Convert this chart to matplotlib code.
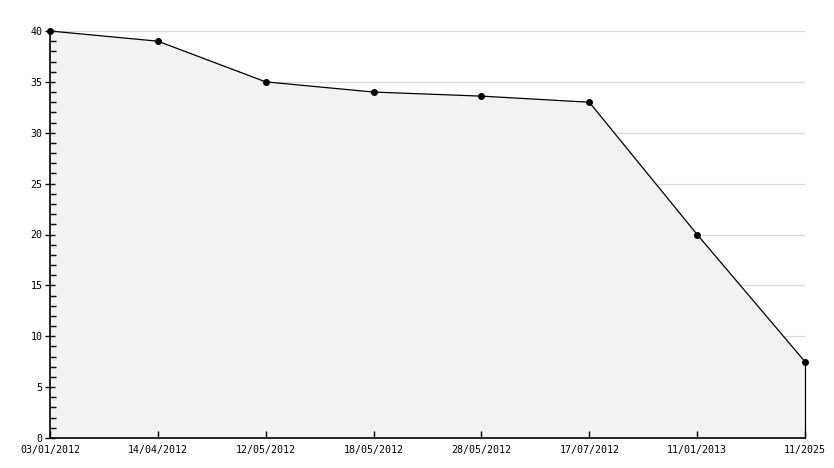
import matplotlib
matplotlib.use("Agg")
from matplotlib import pyplot as plt
from matplotlib.ticker import MultipleLocator

dates = ["03/01/2012", "14/04/2012", "12/05/2012", "18/05/2012",
         "28/05/2012", "17/07/2012", "11/01/2013", "11/2025"]
values = [40, 39, 35, 34, 33.6, 33, 20, 7.5]
grid_levels = [5, 10, 15, 20, 25, 30, 35, 40]

plt.rcParams['font.family'] = ['DejaVu Sans Mono']
plt.rcParams['font.size'] = 7.2

fig = plt.figure(figsize=(8.34, 4.68), dpi=100)
ax = fig.add_axes([50 / 834, 30 / 468, 755 / 834, 407 / 468])

xs = list(range(len(values)))
for g in grid_levels:
    ax.axhline(g, color="#d8d8d8", linewidth=0.9, zorder=1)
ax.fill_between(xs, values, 0, color="#f2f2f2", zorder=1.5, linewidth=0)
ax.plot(xs, values, color="black", linewidth=0.9, marker="o", markersize=4, zorder=4,
        clip_on=False)
ax.plot([xs[-1], xs[-1]], [0, values[-1]], color="black", linewidth=0.9, zorder=3,
        clip_on=False)

ax.set_xlim(0, len(values) - 1)
ax.set_ylim(0, 40)
ax.set_xticks(xs)
ax.set_xticklabels(dates)
ax.yaxis.set_major_locator(MultipleLocator(5))
ax.yaxis.set_minor_locator(MultipleLocator(1))

for side in ["top", "right"]:
    ax.spines[side].set_visible(False)
ax.spines["left"].set_linewidth(1.2)
ax.spines["bottom"].set_linewidth(1.2)

ax.tick_params(axis="y", which="major", direction="inout", length=7, width=1, pad=2)
ax.tick_params(axis="y", which="minor", direction="in", length=4, width=1)
ax.tick_params(axis="x", which="major", direction="in", length=5, width=1, pad=5)

fig.savefig("out.png", dpi=100)
